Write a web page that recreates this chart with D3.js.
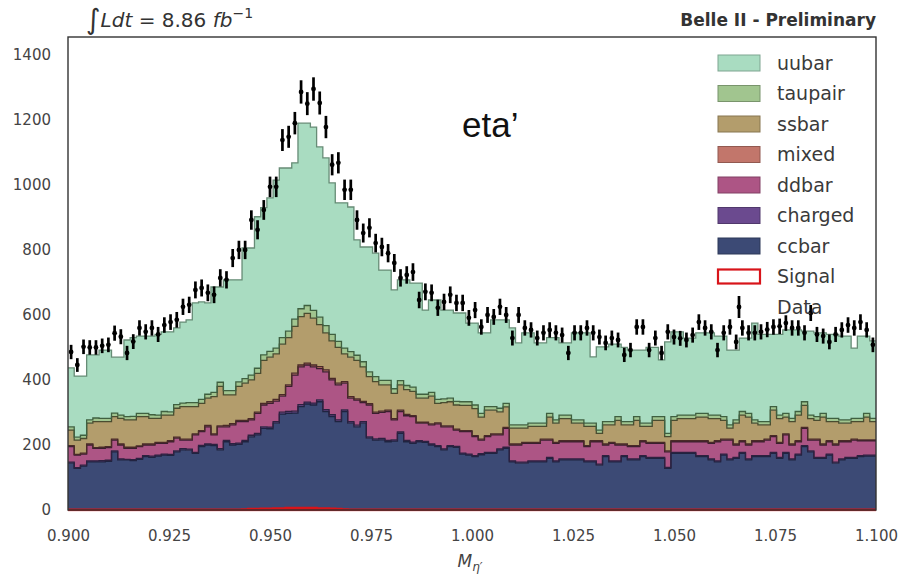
<!DOCTYPE html>
<html>
<head>
<meta charset="utf-8">
<script src="https://cdn.jsdelivr.net/npm/d3@7"></script>
<style>
  body { margin: 0; background: #fff; }
  svg { display: block; }
</style>
</head>
<body>
<svg id="chart" width="900" height="576"></svg>
<script>
// Histogram binning of the eta' candidate mass
const massRange = [0.9, 1.1];
const nBins = 130;

// Stacked MC components (events per bin), bottom to top
const ccbar = [144,128,135,148,148,148,150,179,154,154,
152,156,164,162,166,169,168,179,185,184,
174,195,200,198,185,210,200,202,210,225,
231,251,250,267,295,297,298,318,326,323,
333,303,287,272,303,267,256,267,221,215,
216,210,212,236,210,205,210,208,200,195,
185,195,193,172,169,164,170,174,174,185,
190,148,144,144,148,148,148,159,148,154,
154,154,154,148,148,138,164,148,148,164,
154,154,164,159,159,159,128,174,174,174,
174,164,164,154,148,169,154,159,174,154,
164,164,164,174,159,174,154,169,195,179,
159,159,169,144,154,159,159,164,166,166];

const charged = [3,2,3,3,3,4,3,3,3,2,
3,3,3,4,3,3,3,3,4,3,
3,4,3,4,4,4,4,4,4,5,
5,5,5,5,6,6,6,6,6,6,
6,6,6,5,5,5,5,5,4,4,
4,4,4,4,4,4,3,3,3,3,
3,3,3,3,3,3,3,3,3,3,
3,3,3,3,3,3,3,3,3,3,
3,3,3,3,3,3,3,3,3,3,
3,3,3,3,3,3,3,3,3,3,
3,3,3,3,3,3,3,3,3,3,
3,3,3,3,3,3,3,3,3,3,
3,3,3,3,3,3,3,3,3,3];

const ddbar = [48,39,34,49,39,38,39,33,43,34,
35,36,33,34,36,33,39,39,26,28,
54,42,53,29,67,42,58,66,58,47,
61,67,73,63,49,77,111,116,114,111,
96,116,107,108,82,72,77,58,98,78,
80,89,61,63,76,78,54,56,59,67,
68,58,50,66,69,59,42,49,54,43,
58,49,53,58,54,54,64,53,54,53,
53,53,53,44,59,69,33,54,49,33,
38,38,43,43,43,43,48,33,33,33,
33,43,43,48,59,43,58,38,33,43,
43,43,48,49,43,54,43,38,53,33,
53,38,38,53,53,48,53,46,44,44];

const mixed = [3,2,3,3,2,3,3,3,3,3,
3,2,3,3,3,3,3,3,3,3,
3,3,4,3,3,4,4,4,4,4,
4,5,5,5,5,5,6,6,6,6,
6,6,5,5,5,5,4,4,4,4,
4,4,4,4,4,3,3,3,3,3,
3,3,3,3,3,3,3,3,3,3,
3,3,3,3,3,3,3,3,3,3,
3,3,3,3,3,3,3,3,3,3,
3,3,3,3,3,3,3,3,3,3,
3,3,3,3,3,3,3,3,3,3,
3,3,3,3,3,3,3,3,3,3,
3,3,3,3,3,3,3,3,3,3];

const ssbar = [48,44,45,64,80,79,77,69,79,84,
84,90,84,79,74,84,79,89,100,100,
84,84,84,115,121,94,88,104,114,119,
119,132,137,140,155,145,144,149,153,144,
129,114,115,110,85,121,118,106,83,94,
81,78,78,78,76,75,74,74,85,60,
71,74,74,78,78,83,68,78,73,68,
63,49,49,44,49,49,39,68,59,68,
68,54,54,59,44,23,59,54,73,59,
64,78,44,49,68,68,44,63,68,68,
68,73,73,73,68,58,34,64,79,83,
54,49,44,78,73,52,69,79,68,63,
58,83,59,69,54,54,54,56,70,56];

const taupair = [10,9,10,10,11,10,10,11,10,10,
11,10,10,11,10,11,10,11,11,12,
12,12,12,13,13,13,13,14,14,15,
16,17,18,18,20,20,22,24,24,24,
23,22,20,19,18,17,16,16,15,15,
14,14,14,13,13,13,12,12,12,12,
12,11,11,11,11,11,11,11,11,11,
11,10,10,10,10,10,10,11,10,11,
11,10,10,10,10,10,10,10,11,10,
10,11,10,10,11,11,10,11,11,11,
11,11,11,11,11,11,10,10,11,11,
10,10,10,11,11,11,10,11,11,11,
11,11,10,10,10,10,10,10,11,10];

const uubar = [181,188,182,200,194,210,210,172,178,236,
242,238,238,242,248,245,246,236,249,255,
307,300,281,324,293,341,341,314,402,391,
466,453,472,517,522,502,481,571,561,564,
524,516,466,426,447,445,355,353,384,380,
339,339,304,310,325,320,342,259,284,306,
273,271,272,273,242,252,248,227,267,272,
257,298,252,283,278,247,247,233,253,222,
222,268,268,278,204,256,230,238,223,228,
220,205,225,233,213,175,281,261,256,237,
237,248,248,253,243,248,230,215,226,232,
298,268,268,222,248,257,272,251,217,258,
258,248,258,258,258,258,216,253,238,238];

// Expected signal (outline only)
const signal = [1,1,1,1,1,1,1,1,1,1,
1,1,1,1,1,1,1,1,1,1,
1,1,1,1,1,1,1,1,2,3,
3,4,4,5,5,6,6,6,6,6,
5,5,4,3,2,1,1,1,1,1,
1,1,1,1,1,1,1,1,1,1,
1,1,1,1,1,1,1,1,1,1,
1,1,1,1,1,1,1,1,1,1,
1,1,1,1,1,1,1,1,1,1,
1,1,1,1,1,1,1,1,1,1,
1,1,1,1,1,1,1,1,1,1,
1,1,1,1,1,1,1,1,1,1,
1,1,1,1,1,1,1,1,1,1];

// Recorded data (events per bin)
const dataCounts = [486,446,502,500,500,505,508,544,533,483,
518,560,548,560,540,569,578,585,625,631,
677,683,668,662,714,708,775,800,800,892,
862,923,994,994,1138,1148,1190,1286,1250,1295,
1252,1178,1062,1068,985,985,892,852,868,821,
809,790,760,714,723,732,646,671,668,622,
640,662,637,637,591,615,563,600,594,625,
600,529,600,560,554,529,545,554,545,538,
483,545,545,560,545,532,514,529,523,477,
492,563,563,492,529,483,548,532,528,523,
538,578,560,548,492,545,563,517,560,545,
545,548,555,563,565,575,560,560,545,606,
540,535,517,540,554,569,560,578,554,508];

const xTicks = [0.900, 0.925, 0.950, 0.975, 1.000, 1.025, 1.050, 1.075, 1.100];
const yTicks = [0, 200, 400, 600, 800, 1000, 1200, 1400];

const stackKeys = ["ccbar", "charged", "ddbar", "mixed", "ssbar", "taupair", "uubar"];
const components = { ccbar, charged, ddbar, mixed, ssbar, taupair, uubar };
const fillColor = {
  ccbar: "#3c4a75", charged: "#6b4a8f", ddbar: "#ad5585", mixed: "#c2766b",
  ssbar: "#b39d6c", taupair: "#a1c58f", uubar: "#a9dcc1"
};
const edgeColor = {
  ccbar: "#1f2440", charged: "#2e2140", ddbar: "#3a1f30", mixed: "#4a2a28",
  ssbar: "#4a4c30", taupair: "#3f6040", uubar: "#678c76"
};
const legendLabels = ["uubar", "taupair", "ssbar", "mixed", "ddbar", "charged", "ccbar"];

// ---- layout ----
const svg = d3.select("#chart");
const plot = { left: 68, right: 876, top: 37, bottom: 510 };
const x = d3.scaleLinear().domain(massRange).range([plot.left, plot.right]);
const y = d3.scaleLinear().domain([0, 1455]).range([plot.bottom, plot.top]);

const edges = d3.range(nBins + 1).map(i => massRange[0] + i * (massRange[1] - massRange[0]) / nBins);
const centers = d3.range(nBins).map(i => (edges[i] + edges[i + 1]) / 2);

const defs = svg.append("defs");
defs.append("clipPath").attr("id", "plotClip")
  .append("rect")
  .attr("x", plot.left).attr("y", plot.top)
  .attr("width", plot.right - plot.left).attr("height", plot.bottom - plot.top);
defs.append("clipPath").attr("id", "sigClip")
  .append("rect")
  .attr("x", plot.left).attr("y", plot.top)
  .attr("width", plot.right - plot.left).attr("height", plot.bottom - plot.top + 1.5);

// rows for the stack; one closing row so the last step reaches the right edge
const rows = d3.range(nBins).map(i => {
  const r = { i };
  stackKeys.forEach(k => r[k] = components[k][i]);
  return r;
});
rows.push(Object.assign({}, rows[nBins - 1], { i: nBins }));

const stacked = d3.stack().keys(stackKeys)(rows);

const area = d3.area()
  .curve(d3.curveStepAfter)
  .x(d => x(edges[d.data.i]))
  .y0(d => y(d[0]))
  .y1(d => y(d[1]));

const topLine = d3.line()
  .curve(d3.curveStepAfter)
  .x(d => x(edges[d.data.i]))
  .y(d => y(d[1]));

const g = svg.append("g").attr("clip-path", "url(#plotClip)");

g.selectAll("path.layer")
  .data(stacked)
  .join("path")
  .attr("class", "layer")
  .attr("d", area)
  .attr("fill", s => fillColor[s.key]);

g.selectAll("path.edge")
  .data(stacked)
  .join("path")
  .attr("class", "edge")
  .attr("d", topLine)
  .attr("fill", "none")
  .attr("stroke", s => edgeColor[s.key])
  .attr("stroke-width", 1.3);

// signal outline, closed down to the baseline
const sigRows = signal.map((v, i) => ({ i, v })).concat([{ i: nBins, v: signal[nBins - 1] }]);
svg.append("path")
  .attr("clip-path", "url(#sigClip)")
  .attr("d", d3.area().curve(d3.curveStepAfter)
    .x(d => x(edges[d.i])).y0(y(0)).y1(d => y(d.v))(sigRows))
  .attr("fill", "none")
  .attr("stroke", "#d8141a")
  .attr("stroke-width", 2.4);

// data points with Poisson error bars
const pts = svg.append("g");
pts.selectAll("line.err")
  .data(dataCounts)
  .join("line")
  .attr("class", "err")
  .attr("x1", (d, i) => x(centers[i]))
  .attr("x2", (d, i) => x(centers[i]))
  .attr("y1", d => y(d - Math.sqrt(d)))
  .attr("y2", d => y(d + Math.sqrt(d)))
  .attr("stroke", "#000")
  .attr("stroke-width", 2.7);
pts.selectAll("circle.pt")
  .data(dataCounts)
  .join("circle")
  .attr("class", "pt")
  .attr("cx", (d, i) => x(centers[i]))
  .attr("cy", d => y(d))
  .attr("r", 2.4)
  .attr("fill", "#000");

// frame
svg.append("rect")
  .attr("x", plot.left).attr("y", plot.top)
  .attr("width", plot.right - plot.left).attr("height", plot.bottom - plot.top)
  .attr("fill", "none").attr("stroke", "#333").attr("stroke-width", 1.4);

// axes
const xAxis = svg.append("g")
  .attr("transform", `translate(0,${plot.bottom})`)
  .call(d3.axisBottom(x).tickValues(xTicks).tickFormat(d3.format(".3f")).tickSize(0).tickPadding(20));
const yAxis = svg.append("g")
  .attr("transform", `translate(${plot.left},0)`)
  .call(d3.axisLeft(y).tickValues(yTicks).tickFormat(d3.format("d")).tickSize(0).tickPadding(17));
[xAxis, yAxis].forEach(a => {
  a.select(".domain").remove();
  a.selectAll("text")
    .attr("font-family", "DejaVu Sans, sans-serif")
    .attr("font-size", 15)
    .attr("fill", "#444");
});

// x axis title: M_eta'
const xt = svg.append("text")
  .attr("x", 470).attr("y", 567)
  .attr("text-anchor", "middle")
  .attr("font-family", "DejaVu Sans, sans-serif")
  .attr("fill", "#444");
xt.append("tspan").attr("font-size", 17).attr("font-style", "italic").text("M");
xt.append("tspan").attr("font-size", 12).attr("font-style", "italic").attr("dy", 4).text("η′");

// luminosity label
const lum = svg.append("text")
  .attr("x", 86).attr("y", 27)
  .attr("font-family", "DejaVu Sans, sans-serif")
  .attr("font-size", 20)
  .attr("fill", "#333");
lum.append("tspan").attr("font-size", 28).attr("dy", 2).text("∫");
lum.append("tspan").attr("font-style", "italic").attr("dy", -2).text("Ldt");
lum.append("tspan").text(" = 8.86 ");
lum.append("tspan").attr("font-style", "italic").text("fb");
lum.append("tspan").attr("font-size", 14).attr("dy", -9).text("−1");

svg.append("text")
  .attr("x", 876).attr("y", 26)
  .attr("text-anchor", "end")
  .attr("font-family", "DejaVu Sans, sans-serif")
  .attr("font-weight", "bold")
  .attr("font-size", 17)
  .attr("fill", "#333")
  .text("Belle II - Preliminary");

svg.append("text")
  .attr("x", 462).attr("y", 137)
  .attr("font-family", "Liberation Sans, Arial, sans-serif")
  .attr("font-size", 35)
  .attr("fill", "#111")
  .text("eta’");

// legend
const legend = svg.append("g");
const rowY = i => 63 + i * 30.5;
legendLabels.forEach((k, i) => {
  legend.append("rect")
    .attr("x", 718).attr("y", rowY(i) - 8)
    .attr("width", 42).attr("height", 16)
    .attr("fill", fillColor[k])
    .attr("stroke", d3.color(fillColor[k]).darker(0.8))
    .attr("stroke-width", 1);
  legend.append("text")
    .attr("x", 777).attr("y", rowY(i)).attr("dy", "0.35em")
    .attr("font-family", "DejaVu Sans, sans-serif")
    .attr("font-size", 19)
    .attr("fill", "#3a3a3a")
    .text(k);
});
legend.append("rect")
  .attr("x", 718).attr("y", rowY(7) - 7)
  .attr("width", 42).attr("height", 14)
  .attr("fill", "#fff").attr("stroke", "#d8141a").attr("stroke-width", 2.2);
legend.append("text")
  .attr("x", 777).attr("y", rowY(7)).attr("dy", "0.35em")
  .attr("font-family", "DejaVu Sans, sans-serif")
  .attr("font-size", 19).attr("fill", "#3a3a3a")
  .text("Signal");
legend.append("line")
  .attr("x1", 739).attr("x2", 739)
  .attr("y1", rowY(8) - 11).attr("y2", rowY(8) + 11)
  .attr("stroke", "#000").attr("stroke-width", 2.7);
legend.append("circle")
  .attr("cx", 739).attr("cy", rowY(8)).attr("r", 2.4).attr("fill", "#000");
legend.append("text")
  .attr("x", 777).attr("y", rowY(8)).attr("dy", "0.35em")
  .attr("font-family", "DejaVu Sans, sans-serif")
  .attr("font-size", 19).attr("fill", "#3a3a3a")
  .text("Data");
</script>
</body>
</html>
